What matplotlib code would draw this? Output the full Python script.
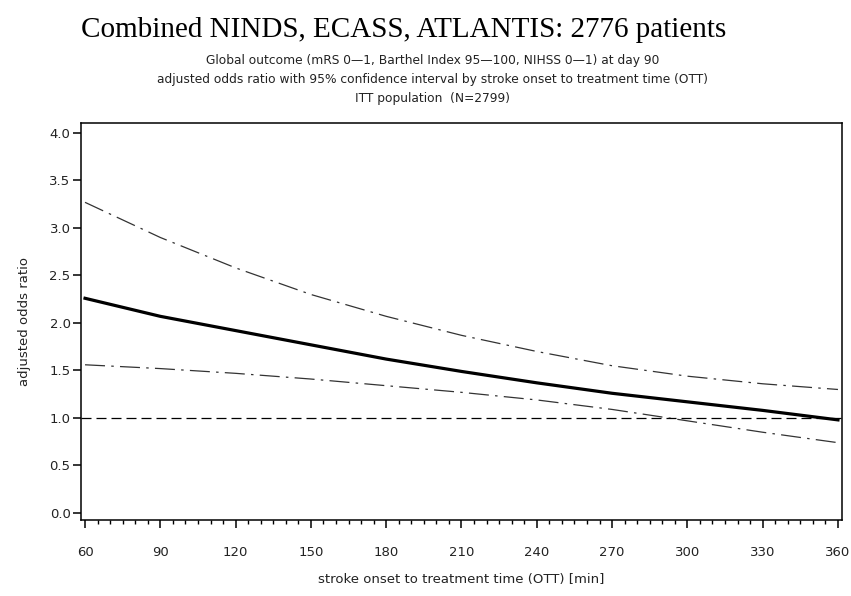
import matplotlib
matplotlib.use("Agg")
import matplotlib.pyplot as plt
from matplotlib.ticker import MultipleLocator, FormatStrFormatter

# readings, OTT in minutes
ott = [60, 90, 120, 150, 180, 210, 240, 270, 300, 330, 360]
odds = [2.26, 2.07, 1.92, 1.77, 1.62, 1.49, 1.37, 1.26, 1.17, 1.08, 0.98]
upper = [3.27, 2.90, 2.58, 2.30, 2.07, 1.87, 1.70, 1.55, 1.44, 1.36, 1.30]
lower = [1.56, 1.52, 1.47, 1.41, 1.34, 1.27, 1.19, 1.09, 0.97, 0.85, 0.74]

title = "Combined NINDS, ECASS, ATLANTIS: 2776 patients"
subtitle = [
    "Global outcome (mRS 0\u20141, Barthel Index 95\u2014100, NIHSS 0\u20141) at day 90",
    "adjusted odds ratio with 95% confidence interval by stroke onset to treatment time (OTT)",
    "ITT population  (N=2799)",
]

plt.rcParams["font.family"] = "DejaVu Sans"

fig = plt.figure(figsize=(8.51, 5.96), dpi=100)
ax = fig.add_axes([0.0952, 0.1275, 0.8942, 0.6661])

ax.plot(ott, odds, color="black", lw=2.3)
for ci in (upper, lower):
    l, = ax.plot(ott, ci, color="#333333", lw=0.9)
    l.set_dashes((16, 5, 2, 5))
ref = ax.axhline(1.0, color="black", lw=0.9)
ref.set_dashes((8, 4))

ax.set_xlim(58.4, 361.6)
ax.set_ylim(-0.074, 4.105)
ax.xaxis.set_major_locator(MultipleLocator(30))
ax.xaxis.set_minor_locator(MultipleLocator(5))
ax.yaxis.set_major_locator(MultipleLocator(0.5))
ax.yaxis.set_major_formatter(FormatStrFormatter("%.1f"))
ax.tick_params(axis="both", which="major", length=6, width=1.1, labelsize=9.5,
               labelcolor="#222222")
ax.tick_params(axis="x", which="minor", length=3, width=1.0)
ax.tick_params(axis="x", pad=13)
ax.tick_params(axis="y", pad=1.5)
for s in ax.spines.values():
    s.set_linewidth(1.1)

ax.set_xlabel("stroke onset to treatment time (OTT) [min]", fontsize=9.5,
              color="#222222", labelpad=10)
ax.set_ylabel("adjusted odds ratio", fontsize=9.5, color="#222222", labelpad=13)

fig.text(0.474, 0.95, title, family="Liberation Serif", fontsize=21,
         ha="center", va="center")
for i, line in enumerate(subtitle):
    fig.text(0.508, 0.899 - i * 0.0325, line, fontsize=8.8, ha="center",
             va="center", color="#222222")

fig.savefig("out.png", dpi=100)
